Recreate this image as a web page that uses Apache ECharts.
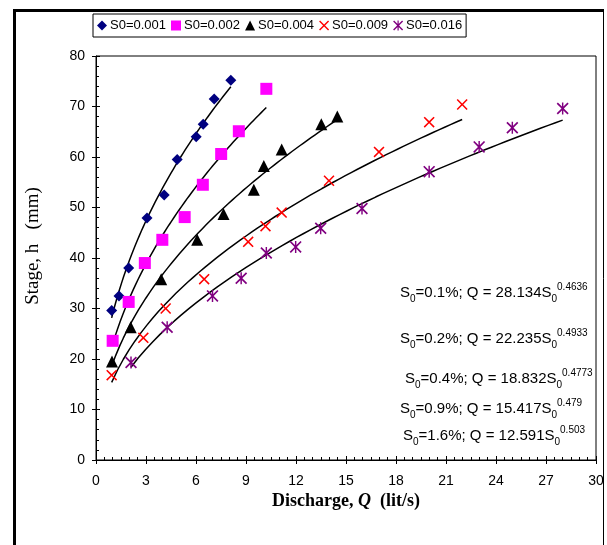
<!DOCTYPE html>
<html>
<head>
<meta charset="utf-8">
<script src="https://cdn.jsdelivr.net/npm/echarts@6/dist/echarts.min.js"></script>
<style>
  html, body { margin: 0; padding: 0; background: #fff; }
  #chart { width: 607px; height: 545px; }
</style>
</head>
<body>
<div id="chart"></div>
<script>
const names = ['S0=0.001', 'S0=0.002', 'S0=0.004', 'S0=0.009', 'S0=0.016'];

const q001 = [0.94, 1.38, 1.96, 3.06, 4.09, 4.87, 6.01, 6.43, 7.09, 8.09];
const h001 = [29.6, 32.5, 38.0, 47.9, 52.5, 59.5, 64.0, 66.5, 71.5, 75.2];

const q002 = [1.00, 1.96, 2.93, 3.98, 5.32, 6.41, 7.51, 8.57, 10.22];
const h002 = [23.6, 31.3, 39.0, 43.6, 48.1, 54.5, 60.6, 65.1, 73.5];

const q004 = [0.96, 2.08, 3.91, 6.07, 7.65, 9.47, 10.07, 11.14, 13.52, 14.48];
const h004 = [19.5, 26.3, 35.8, 43.6, 48.7, 53.5, 58.2, 61.5, 66.5, 68.0];

const q009 = [0.94, 2.84, 4.18, 6.49, 9.13, 10.17, 11.14, 13.98, 16.98, 19.99, 21.97];
const h009 = [16.8, 24.2, 30.0, 35.8, 43.2, 46.3, 49.0, 55.3, 61.0, 66.9, 70.4];

const q016 = [2.10, 4.27, 6.99, 8.71, 10.22, 11.98, 13.48, 15.96, 19.99, 22.99, 24.98, 28.0];
const h016 = [19.3, 26.3, 32.5, 36.0, 41.0, 42.2, 45.9, 49.8, 57.1, 62.0, 65.8, 69.6];

const equations = [
  ['0.1%', '28.134', '0.4636'],
  ['0.2%', '22.235', '0.4933'],
  ['0.4%', '18.832', '0.4773'],
  ['0.9%', '15.417', '0.479'],
  ['1.6%', '12.591', '0.503']
];

const colors = ['#000080', '#ff00ff', '#000000', '#ff0000', '#800080'];
const symbols = [
  'diamond',
  'rect',
  'triangle',
  'path://M0,1L1,0L5,4L9,0L10,1L6,5L10,9L9,10L5,6L1,10L0,9L4,5Z',
  'path://M0,1L1,0L5,4L9,0L10,1L6,5L10,9L9,10L5,6L1,10L0,9L4,5Z M4.4,0L5.6,0L5.6,10L4.4,10Z'
];
const sizes = [11, 12, 12, 11, 12];

const qs = [q001, q002, q004, q009, q016];
const hs = [h001, h002, h004, h009, h016];

// power trendline h = a*Q^b, least squares in log space (like excel)
function powerFit(q, h) {
  let n = q.length, sx = 0, sy = 0, sxx = 0, sxy = 0;
  for (let i = 0; i < n; i++) {
    const lx = Math.log(q[i]), ly = Math.log(h[i]);
    sx += lx; sy += ly; sxx += lx * lx; sxy += lx * ly;
  }
  const b = (n * sxy - sx * sy) / (n * sxx - sx * sx);
  const a = Math.exp((sy - b * sx) / n);
  const lo = Math.min(...q), hi = Math.max(...q);
  const out = [];
  for (let k = 0; k <= 60; k++) {
    const x = lo + (hi - lo) * k / 60;
    out.push([x, a * Math.pow(x, b)]);
  }
  return out;
}

const series = [];
for (let i = 0; i < 5; i++) {
  series.push({
    name: names[i] + ' fit',
    type: 'line',
    data: powerFit(qs[i], hs[i]),
    showSymbol: false,
    silent: true,
    lineStyle: { color: '#000', width: 1.5 },
    z: 2
  });
}
for (let i = 0; i < 5; i++) {
  series.push({
    name: names[i],
    type: 'scatter',
    data: qs[i].map((q, j) => [q, hs[i][j]]),
    symbol: symbols[i],
    symbolSize: sizes[i],
    itemStyle: { color: colors[i], opacity: 1 },
    z: 3
  });
}

const sansFont = 'Liberation Sans, Arial, sans-serif';
const serifFont = 'Liberation Serif, Times New Roman, serif';

const eqCenters = [293, 339, 379, 409, 436];
const eqLeft = [400, 400, 405, 400, 403];
const eqRich = {
  m: { fontSize: 15, fontFamily: sansFont, color: '#000', lineHeight: 22 },
  sub: { fontSize: 10, fontFamily: sansFont, color: '#000', lineHeight: 10, verticalAlign: 'bottom' },
  sup: { fontSize: 10, fontFamily: sansFont, color: '#000', lineHeight: 10, verticalAlign: 'top' }
};
const eqTexts = equations.map((e, i) => ({
  type: 'text',
  x: eqLeft[i],
  y: eqCenters[i],
  style: {
    text: '{m|S}{sub|0}{m|=' + e[0] + '; Q = ' + e[1] + 'S}{sub|0}{sup|' + e[2] + '}',
    rich: eqRich,
    align: 'left',
    verticalAlign: 'middle'
  },
  z: 10
}));

const chart = echarts.init(document.getElementById('chart'));
chart.setOption({
  animation: false,
  backgroundColor: '#fff',
  color: colors,
  grid: {
    left: 96, right: 11, top: 56, bottom: 85,
    show: true, borderColor: '#000', borderWidth: 1
  },
  legend: {
    data: names,
    left: 93, top: 14,
    orient: 'horizontal',
    itemWidth: 10, itemHeight: 10,
    itemGap: 5,
    padding: [5, 4],
    borderColor: '#000', borderWidth: 1,
    textStyle: { fontSize: 13, fontFamily: sansFont, color: '#000', padding: [0, 0, 0, -2] }
  },
  xAxis: [
    {
      type: 'value', min: 0, max: 30, interval: 3,
      axisLine: { show: true, lineStyle: { color: '#000', width: 1 } },
      axisTick: { show: true, inside: true, length: 4, lineStyle: { color: '#000' } },
      minorTick: { show: true, splitNumber: 6, length: 3, lineStyle: { color: '#000' } },
      splitLine: { show: false },
      axisLabel: { margin: 14, fontSize: 14, fontFamily: sansFont, color: '#000' }
    },
    {
      type: 'value', min: 0, max: 30, interval: 3, position: 'bottom',
      axisLine: { show: false },
      axisTick: { show: true, inside: false, length: 4, lineStyle: { color: '#000' } },
      splitLine: { show: false },
      axisLabel: { show: false }
    }
  ],
  yAxis: [
    {
      type: 'value', min: 0, max: 80, interval: 10,
      axisLine: { show: true, lineStyle: { color: '#000', width: 1 } },
      axisTick: { show: true, inside: true, length: 4, lineStyle: { color: '#000' } },
      minorTick: { show: true, splitNumber: 5, length: 3, lineStyle: { color: '#000' } },
      splitLine: { show: false },
      axisLabel: { margin: 11, fontSize: 14, fontFamily: sansFont, color: '#000' }
    },
    {
      type: 'value', min: 0, max: 80, interval: 10, position: 'left',
      axisLine: { show: false },
      axisTick: { show: true, inside: false, length: 4, lineStyle: { color: '#000' } },
      splitLine: { show: false },
      axisLabel: { show: false }
    }
  ],
  series: series,
  graphic: [
    // chart area frame
    { type: 'rect', shape: { x: 14.5, y: 10.5, width: 589, height: 560 },
      style: { fill: null, stroke: '#000', lineWidth: 1 }, silent: true },
    { type: 'line', shape: { x1: 14.5, y1: 9, x2: 14.5, y2: 545 },
      style: { stroke: '#000', lineWidth: 3 }, silent: true },
    { type: 'line', shape: { x1: 13, y1: 10.5, x2: 604, y2: 10.5 },
      style: { stroke: '#000', lineWidth: 3 }, silent: true },
    {
      type: 'text', x: 346, y: 501,
      style: {
        text: '{b|Discharge, }{bi|Q}{b|  (lit/s)}',
        rich: {
          b: { fontSize: 18, fontWeight: 'bold', fontFamily: serifFont, color: '#000' },
          bi: { fontSize: 18, fontWeight: 'bold', fontStyle: 'italic', fontFamily: serifFont, color: '#000' }
        },
        align: 'center', verticalAlign: 'middle'
      }
    },
    {
      type: 'text', x: 33, y: 246, rotation: Math.PI / 2,
      style: {
        text: 'Stage, h   (mm)',
        fontSize: 19, fontFamily: serifFont, fill: '#000',
        align: 'center', verticalAlign: 'middle'
      }
    }
  ].concat(eqTexts)
});
</script>
</body>
</html>
